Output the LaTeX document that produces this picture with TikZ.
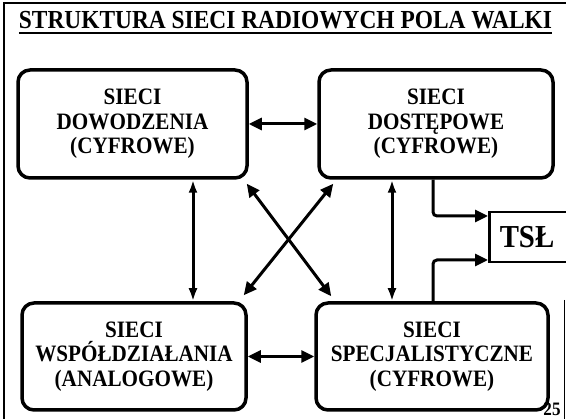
\documentclass[tikz,border=0pt]{standalone}
\usepackage{fontspec}
\setmainfont[FakeStretch=0.9]{Liberation Serif}
\usetikzlibrary{arrows.meta}
\tikzset{
  netbox/.style={draw, line width=3.5pt, rounded corners=12pt, align=center,
    font=\bfseries\fontsize{23.5}{24.5}\selectfont, inner sep=0pt},
  conn/.style={line width=3pt, {Triangle[length=13pt,width=12pt]}-{Triangle[length=13pt,width=12pt]}},
  vconn/.style={line width=3pt, {Latex[length=13pt,width=9pt]}-{Latex[length=13pt,width=9pt]}},
  tslconn/.style={line width=3pt, rounded corners=4pt, -{Triangle[length=13pt,width=12pt]}},
}
\begin{document}
\begin{tikzpicture}[x=1pt,y=-1pt]
\useasboundingbox (0,0) rectangle (566,419);
\clip (0,0) rectangle (566,419);
% frame
\draw[line width=2pt] (4,419) -- (4,3) -- (570,3);
\draw[line width=1.5pt] (564.5,300) -- (564.5,419);
% title
\node[inner sep=0pt, anchor=base, font=\bfseries\fontsize{26}{28}\selectfont] (title) at (285.5,29) {STRUKTURA SIECI RADIOWYCH POLA WALKI};
\draw[line width=2pt] ([yshift=-4pt]title.base west) -- ([yshift=-4pt]title.base east);
% boxes
\node[netbox, minimum width=229, minimum height=108] (tl) at (132.5,124) {SIECI\\DOWODZENIA\\(CYFROWE)};
\node[netbox, minimum width=234, minimum height=108] (tr) at (436,124) {SIECI\\DOSTĘPOWE\\(CYFROWE)};
\node[netbox, minimum width=224, minimum height=107] (bl) at (134,356.5) {SIECI\\WSPÓŁDZIAŁANIA\\(ANALOGOWE)};
\node[netbox, minimum width=232, minimum height=107] (br) at (432,356.5) {SIECI\\SPECJALISTYCZNE\\(CYFROWE)};
% TSL
\node[draw, line width=2.5pt, minimum width=90, minimum height=50, anchor=west, inner sep=0pt] (tsl) at (488,237) {};
\node[inner sep=0pt, font=\bfseries\fontsize{32}{34}\selectfont] (tsltext) at (527,237) {TSŁ};
% connectors
\coordinate (vl) at (193,0);
\coordinate (vr) at (392,0);
\coordinate (ua) at (433,216);
\coordinate (la) at (433,260);
\draw[conn] (tl.east) -- (tr.west);
\draw[conn] (bl.east) -- (br.west);
\draw[vconn] (tl.south -| vl) -- (bl.north -| vl);
\draw[vconn] (tr.south -| vr) -- (br.north -| vr);
\draw[conn] ([shift={(-2,4)}]tl.south east) -- ([shift={(17,-5)}]br.north west);
\draw[conn] ([shift={(16,4)}]tr.south west) -- ([shift={(-4,-6)}]bl.north east);
\draw[tslconn] (tr.south -| ua) |- (ua -| tsl.west);
\draw[tslconn] (br.north -| la) |- (la -| tsl.west);
% page number
\node[inner sep=0pt, anchor=base, font=\bfseries\fontsize{19}{20}\selectfont] (pg) at (552,416) {25};
\end{tikzpicture}
\end{document}
